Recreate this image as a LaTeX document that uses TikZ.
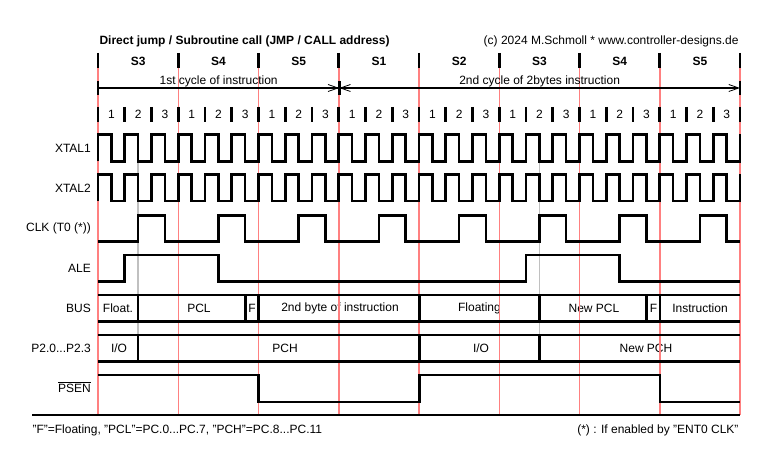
\documentclass[tikz,border=0pt]{standalone}
\usepackage{fontspec}
\setmainfont{Liberation Sans}
\usetikzlibrary{arrows.meta}

\begin{document}
\begin{tikzpicture}[
  x=1pt, y=-1pt,
  font=\fontsize{12}{14}\selectfont,
  >={Straight Barb[length=10pt,width=7pt,line width=0.8pt]},
  grid/.style={draw={rgb,255:red,255;green,128;blue,128}, line width=1.5pt},
  guide/.style={draw={rgb,255:red,192;green,192;blue,192}, line width=1.4pt},
  wave/.style={draw, line width=2.6pt},
  tickmark/.style={draw, line width=2.6pt},
  span/.style={draw, line width=2.2pt},
  siglabel/.style={anchor=east, inner sep=1pt},
  state/.style={font=\fontsize{12}{14}\selectfont\bfseries}
]
  \useasboundingbox (0,0) rectangle (769,462);

  \node[anchor=west, state] (title) at (96,41) {Direct jump / Subroutine call (JMP / CALL address)};
  \node[anchor=east] (copy) at (742,41) {(c) 2024 M.Schmoll * www.controller-designs.de};

  \foreach \s [count=\i from 0] in {S3,S4,S5,S1,S2,S3,S4,S5}
    \node[state] (s\i) at ({98+(\i+0.5)*80.25},61) {\s};
  \foreach \i in {0,...,23} {
    \pgfmathtruncatemacro\phase{mod(\i,3)+1}
    \node (p\i) at ({98+(\i+0.5)*26.75},114) {\phase};
  }

  \node[siglabel] (lx1) at (92,148) {XTAL1};
  \node[siglabel] (lx2) at (92,188) {XTAL2};
  \node[siglabel] (lclk) at (92,228) {CLK (T0 (*))};
  \node[siglabel] (lale) at (92,268) {ALE};
  \node[siglabel] (lbus) at (92,308) {BUS};
  \node[siglabel] (lp2) at (92,348) {P2.0...P2.3};
  \node[siglabel] (lpsen) at (92,387) {$\overline{\hbox{PSEN}}$};

  \node (b1) at (118,308) {Float.};
  \node (b2) at (199,308) {PCL};
  \node (b3) at (252,308) {F};
  \node (b4) at (340,308) {2nd byte of instruction};
  \node (b5) at (479.5,308) {Floating};
  \node (b6) at (594,308) {New PCL};
  \node (b7) at (653.5,308) {F};
  \node (b8) at (700,308) {Instruction};
  \node (h1) at (119,348) {I/O};
  \node (h2) at (285,348) {PCH};
  \node (h3) at (481,348) {I/O};
  \node (h4) at (646,348) {New PCH};

  \node[anchor=west] (note1) at (29,430) {"F"=Floating, "PCL"=PC.0...PC.7, "PCH"=PC.8...PC.11};
  \node[anchor=east] (note2) at (742,430) {(*) : If enabled by "ENT0 CLK"};

  \coordinate (c0) at (98,88);
  \coordinate (c1) at (339.25,88);
  \coordinate (c2) at (740,88);

  \foreach \i in {0,...,8}
    \draw[grid] ({98+\i*80.25},53) -- ({98+\i*80.25},415);
  \draw[guide] (138.125,162) -- (138.125,335);
  \draw[guide] (539.375,162) -- (539.375,335);

  \foreach \i in {0,...,8}
    \draw[tickmark] ({98+\i*80.25},53) -- ++(0,15);
  \foreach \i in {0,...,24}
    \draw[tickmark] ({98+\i*26.75},107) -- ++(0,15);
  \foreach \c in {c0,c1,c2}
    \draw[tickmark] ([yshift=7pt]\c) -- ([yshift=-7pt]\c);

  \draw[span, ->] (c0) -- node[above=-3pt] {1st cycle of instruction} (c1);
  \draw[span, <->] (c1) -- node[above=-3pt] {2nd cycle of 2bytes instruction} (c2);

  \draw[wave] (98,161.5) \foreach \i in {1,...,24} { -- ++(0,-27) -- ++(13.375,0) -- ++(0,27) -- ++(13.375,0) } -- ++(0,-27);
  \draw[wave] (98,201) \foreach \i in {1,...,24} { -- ++(0,-26.5) -- ++(13.375,0) -- ++(0,26.5) -- ++(13.375,0) } -- ++(0,-26.5);
  \draw[wave] (98,241.5) -- (138.125,241.5) \foreach \i in {1,...,7} { -- ++(0,-26) -- ++(26.75,0) -- ++(0,26) -- ++(53.5,0) } -- ++(0,-26) -- ++(26.75,0) -- ++(0,26) -- (740,241.5);
  \draw[wave] (98,281.5) -- (124.75,281.5) -- (124.75,255) -- (218.375,255) -- (218.375,281.5) -- (526,281.5) -- (526,255) -- (619.625,255) -- (619.625,281.5) -- (740,281.5);

  \draw[wave] (98,295) -- (740,295);
  \draw[wave] (98,321.5) -- (740,321.5);
  \foreach \x in {138.125,245.375,258.75,419.25,539.375,646.625,660}
    \draw[wave] (\x,295) -- (\x,321.5);

  \draw[wave] (98,335) -- (740,335);
  \draw[wave] (98,361.5) -- (740,361.5);
  \foreach \x in {138.125,419.25,539.375}
    \draw[wave] (\x,335) -- (\x,361.5);

  \draw[wave] (98,375) -- (258.75,375) -- (258.75,402) -- (419.25,402) -- (419.25,375) -- (660,375) -- (660,402) -- (740,402);
  \draw[wave] (32,415) -- (740,415);
\end{tikzpicture}
\end{document}
